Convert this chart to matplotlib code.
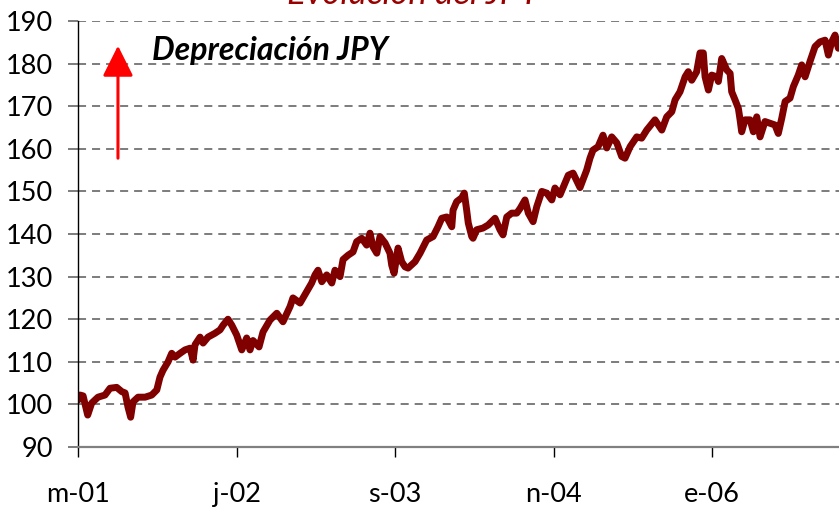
import matplotlib

matplotlib.use("Agg")
import matplotlib.pyplot as plt  # noqa: E402

# periodo en unidades de tick (0 = m-01, 1 = j-02, ...)
x_pos = [
    0.000, 0.013, 0.032, 0.061, 0.086, 0.126, 0.170, 0.202, 0.244, 0.276,
    0.297, 0.315, 0.332, 0.347, 0.379, 0.423, 0.465, 0.497, 0.517, 0.536,
    0.568, 0.591, 0.612, 0.644, 0.675, 0.707, 0.726, 0.738, 0.770, 0.789,
    0.820, 0.864, 0.896, 0.915, 0.946, 0.970, 1.001, 1.033, 1.064, 1.085,
    1.104, 1.142, 1.167, 1.211, 1.254, 1.293, 1.338, 1.356, 1.401, 1.443,
    1.474, 1.495, 1.514, 1.538, 1.569, 1.601, 1.621, 1.653, 1.672, 1.703,
    1.735, 1.758, 1.790, 1.821, 1.842, 1.861, 1.885, 1.905, 1.937, 1.968,
    1.979, 1.994, 2.019, 2.042, 2.063, 2.082, 2.126, 2.158, 2.200, 2.240,
    2.271, 2.295, 2.326, 2.358, 2.366, 2.389, 2.421, 2.437, 2.452, 2.462,
    2.484, 2.492, 2.515, 2.555, 2.587, 2.631, 2.662, 2.681, 2.705, 2.736,
    2.768, 2.789, 2.820, 2.841, 2.871, 2.894, 2.926, 2.957, 2.989, 3.009,
    3.041, 3.073, 3.093, 3.123, 3.167, 3.209, 3.230, 3.249, 3.281, 3.312,
    3.336, 3.367, 3.399, 3.430, 3.451, 3.483, 3.525, 3.556, 3.588, 3.640,
    3.683, 3.714, 3.746, 3.767, 3.798, 3.830, 3.850, 3.872, 3.903, 3.924,
    3.945, 3.956, 3.977, 3.998, 4.030, 4.040, 4.061, 4.093, 4.114, 4.124,
    4.145, 4.166, 4.177, 4.187, 4.208, 4.240, 4.261, 4.282, 4.303, 4.334,
    4.366, 4.397, 4.418, 4.440, 4.461, 4.492, 4.513, 4.544, 4.566, 4.587,
    4.618, 4.650, 4.681, 4.713, 4.734, 4.755, 4.776, 4.797,
]
jpy_index = [
    101.0, 102.2, 102.0, 97.5, 100.3, 101.7, 102.2, 103.8, 104.0, 103.0,
    102.7, 99.4, 97.0, 100.6, 101.7, 101.7, 102.2, 103.4, 106.4, 108.0,
    110.0, 112.0, 111.1, 112.0, 112.8, 113.2, 110.4, 114.0, 115.8, 114.4,
    115.8, 116.7, 117.5, 118.6, 120.0, 118.6, 116.3, 112.8, 115.6, 112.8,
    115.0, 113.5, 117.0, 119.8, 121.4, 119.4, 123.0, 125.0, 123.8, 126.5,
    128.5, 130.4, 131.5, 128.8, 130.4, 128.5, 131.5, 130.0, 134.0, 135.0,
    135.8, 138.2, 139.0, 137.4, 140.2, 137.0, 135.5, 139.4, 137.9, 135.5,
    132.7, 130.8, 136.7, 133.5, 132.3, 132.0, 133.5, 135.5, 138.6, 139.4,
    141.7, 143.7, 144.0, 141.7, 145.6, 147.6, 148.5, 149.6, 145.6, 142.6,
    139.4, 139.0, 141.0, 141.4, 142.1, 143.7, 141.0, 139.8, 144.0, 144.9,
    144.9, 146.0, 148.0, 144.9, 142.9, 146.4, 150.0, 149.6, 148.0, 150.8,
    149.2, 152.0, 153.8, 154.3, 150.9, 155.0, 157.8, 159.7, 160.5, 163.2,
    160.2, 162.8, 161.4, 158.2, 157.8, 160.5, 162.8, 162.5, 164.4, 166.8,
    164.4, 167.5, 168.7, 171.5, 173.4, 176.9, 178.1, 176.1, 178.1, 182.5,
    182.5, 176.9, 173.8, 177.3, 176.9, 175.8, 181.2, 178.5, 177.7, 173.4,
    171.5, 169.5, 166.8, 164.0, 166.8, 166.8, 164.0, 167.5, 162.8, 166.4,
    166.0, 165.6, 163.6, 167.2, 171.1, 171.9, 174.6, 177.3, 179.7, 176.9,
    180.5, 184.0, 185.1, 185.5, 182.0, 185.1, 186.7, 183.6,
]
tick_labels = ["m-01", "j-02", "s-03", "n-04", "e-06"]
y_ticks = list(range(90, 191, 10))

LINE_COLOR = "#800000"
GRID_COLOR = "#666666"
FONT = ["Lato", "DejaVu Sans"]

plt.rcParams["font.family"] = FONT
plt.rcParams["lines.scale_dashes"] = False

fig = plt.figure(figsize=(8.39, 5.11), dpi=100)
ax = fig.add_axes([0.0930, 0.1252, 0.9070, 0.8337])

ax.plot(x_pos, jpy_index, color=LINE_COLOR, linewidth=5.0,
        solid_capstyle="round", solid_joinstyle="round")

ax.set_xlim(0, 4.801)
ax.set_ylim(90, 190)
ax.set_yticks(y_ticks)
ax.set_xticks(range(len(tick_labels)))
ax.set_xticklabels(tick_labels)

ax.yaxis.grid(True, color=GRID_COLOR, linewidth=1.2, linestyle=(0, (5.8, 4.3)))
ax.xaxis.grid(False)
ax.set_axisbelow(True)

for side in ("top", "right"):
    ax.spines[side].set_visible(False)
ax.spines["left"].set_color("black")
ax.spines["left"].set_linewidth(1.0)
ax.spines["bottom"].set_color("#808080")
ax.spines["bottom"].set_linewidth(1.6)

ax.tick_params(axis="y", length=7, width=1.2, color=GRID_COLOR, pad=11,
               labelsize=19.5, labelcolor="black")
ax.tick_params(axis="x", length=7, width=1.0, color="black", pad=18,
               labelsize=19.5, labelcolor="black")

# flecha de depreciación
ax.annotate(
    "", xy=(0.252, 184.2), xytext=(0.252, 157.8),
    arrowprops=dict(arrowstyle="-|>,head_width=0.47,head_length=0.94",
                    mutation_scale=20, color="#ff0000", lw=2.2,
                    shrinkA=0, shrinkB=0),
)
ax.text(0.467, 183.0, "Depreciación JPY", fontsize=23, fontweight="bold",
        fontstyle="italic", ha="left", va="center", color="black")

# título recortado por el borde superior, como en el original
fig.text(0.492, 0.992, "Evolución del JPY", fontsize=25, fontstyle="italic",
         ha="center", va="baseline", color="#990000")

fig.savefig("out.png", dpi=100)
